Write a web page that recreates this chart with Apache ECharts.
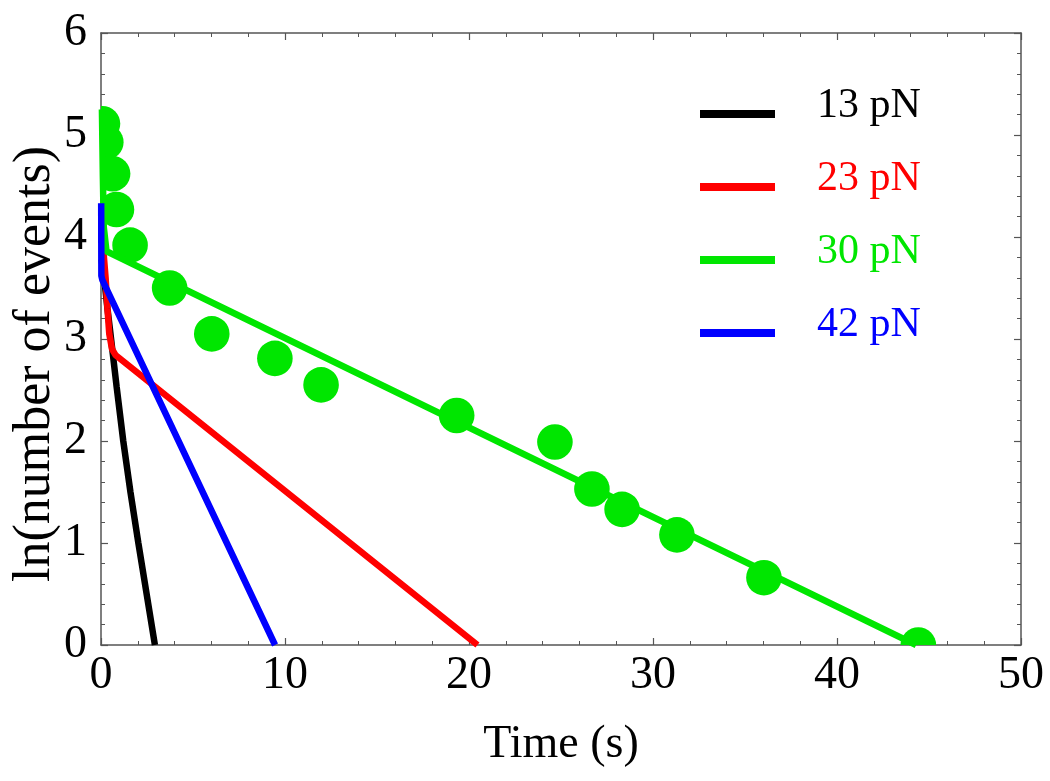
<!DOCTYPE html>
<html>
<head>
<meta charset="utf-8">
<script src="https://cdn.jsdelivr.net/npm/echarts@6/dist/echarts.min.js"></script>
<style>
html,body{margin:0;padding:0;background:#fff;}
#chart{width:1050px;height:781px;}
</style>
</head>
<body>
<div id="chart"></div>
<script>
// ---- data ----
const xTicks = [0, 10, 20, 30, 40, 50];
const yTicks = [0, 1, 2, 3, 4, 5, 6];
const seriesNames = ['13 pN', '23 pN', '30 pN', '42 pN'];
const seriesColors = ['#000000', '#ff0000', '#00e600', '#0000ff'];

// measured points for 30 pN (green circles)
const points30 = [
  [0.08, 5.11], [0.26, 4.93], [0.63, 4.62], [0.84, 4.27], [1.58, 3.92],
  [3.73, 3.50], [6.02, 3.05], [9.45, 2.81], [11.96, 2.55], [19.33, 2.25],
  [24.67, 1.99], [26.68, 1.53], [28.32, 1.33], [31.30, 1.08], [36.03, 0.66],
  [44.42, 0.00]
];

// fitted curves
const fit13 = [[0.03, 3.78], [0.2, 3.55], [0.35, 3.3], [0.49, 3.09], [0.85, 2.53], [1.21, 2.0], [1.6, 1.5], [2.03, 1.0], [2.93, 0]];
const fit23 = [[0.03, 3.87], [0.15, 3.82], [0.25, 3.6], [0.35, 3.3], [0.45, 3.05], [0.6, 2.9], [0.8, 2.84], [20.46, 0]];
const fit30 = [[0.05, 5.25], [0.1, 4.6], [0.15, 4.1], [0.3, 3.86], [44.3, 0]];
const fit42 = [[0.01, 4.33], [0.02, 3.62], [0.07, 3.58], [9.46, 0]];

const FONT = 'Liberation Serif';
const fits = [fit13, fit23, fit30, fit42];

const axisLineStyle = {color: '#555', width: 1.5};

function xAxisCfg(pos, showLabel) {
  return {
    type: 'value', position: pos, min: xTicks[0], max: xTicks[xTicks.length - 1], interval: 10,
    axisLine: {show: true, onZero: false, lineStyle: axisLineStyle},
    axisTick: {show: true, inside: true, length: 7, lineStyle: {color: '#555', width: 1.2}},
    minorTick: {show: true, splitNumber: 5, length: 4, lineStyle: {color: '#555', width: 1}},
    splitLine: {show: false},
    axisLabel: {show: showLabel, fontFamily: FONT, fontSize: 46, color: '#000', margin: 8},
    name: showLabel ? 'Time (s)' : '', nameLocation: 'middle', nameGap: 77, nameMoveOverlap: false,
    nameTextStyle: {fontFamily: FONT, fontSize: 46, color: '#000'}
  };
}
function yAxisCfg(pos, showLabel) {
  return {
    type: 'value', position: pos, min: yTicks[0], max: yTicks[yTicks.length - 1], interval: 1,
    axisLine: {show: true, onZero: false, lineStyle: axisLineStyle},
    axisTick: {show: true, inside: true, length: 7, lineStyle: {color: '#555', width: 1.2}},
    minorTick: {show: true, splitNumber: 5, length: 4, lineStyle: {color: '#555', width: 1}},
    splitLine: {show: false},
    axisLabel: {show: showLabel, fontFamily: FONT, fontSize: 46, color: '#000', margin: 14},
    name: showLabel ? 'ln(number of events)' : '', nameLocation: 'middle', nameGap: 40, nameRotate: 90,
    nameMoveOverlap: false,
    nameTextStyle: {fontFamily: FONT, fontSize: 52, lineHeight: 52, color: '#000', padding: [0, 50, 0, 0]}
  };
}

const series = [];
series.push({
  name: 'points30', type: 'custom', clip: true, z: 1,
  data: points30,
  renderItem: function (params, api) {
    const c = api.coord([api.value(0), api.value(1)]);
    return {type: 'circle', shape: {cx: c[0], cy: c[1], r: 17.8}, style: {fill: seriesColors[2]}};
  }
});
seriesNames.forEach(function (n, i) {
  series.push({
    name: n, type: 'line', data: fits[i], showSymbol: false, clip: true, z: 2 + i,
    color: seriesColors[i],
    lineStyle: {color: seriesColors[i], width: 6.5}
  });
});

const chart = echarts.init(document.getElementById('chart'), null, {renderer: 'canvas'});
chart.setOption({
  animation: false,
  backgroundColor: '#fff',
  grid: {left: 101, right: 29, top: 33, bottom: 136, containLabel: false, outerBoundsMode: 'none'},
  xAxis: [xAxisCfg('bottom', true), xAxisCfg('top', false)],
  yAxis: [yAxisCfg('left', true), yAxisCfg('right', false)],
  legend: {
    left: 695, top: 80, orient: 'vertical', itemGap: 22,
    icon: 'rect', itemWidth: 75, itemHeight: 8,
    data: seriesNames.map(function (n, i) {
      return {name: n, textStyle: {color: seriesColors[i]}};
    }),
    formatter: function (name) { return '{t|' + name + '}\n{s|}'; },
    textStyle: {
      fontFamily: FONT, fontSize: 42, padding: [0, 0, 0, 37],
      rich: {
        t: {fontFamily: FONT, fontSize: 42, lineHeight: 42},
        s: {fontSize: 2, lineHeight: 16}
      }
    }
  },
  series: series
});
</script>
</body>
</html>
